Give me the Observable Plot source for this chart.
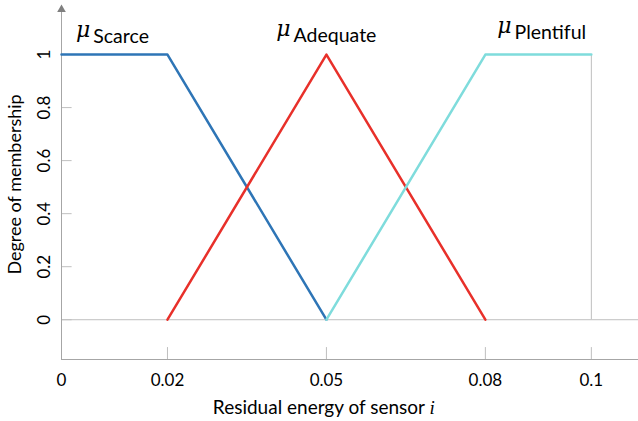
<!DOCTYPE html>
<html><head><meta charset="utf-8">
<script src="https://cdn.jsdelivr.net/npm/d3@7"></script>
<script src="https://cdn.jsdelivr.net/npm/@observablehq/plot@0.6"></script>
<style>body{margin:0;background:#fff;} svg{display:block;}</style>
</head><body><div id="chart"></div>
<script>
const xTicks = [0, 0.02, 0.05, 0.08, 0.1];
const yTicks = [0, 0.2, 0.4, 0.6, 0.8, 1];
const scarceX = [0, 0.02, 0.05], scarceY = [1, 1, 0];
const adequateX = [0.02, 0.05, 0.08], adequateY = [0, 1, 0];
const plentifulX = [0.05, 0.08, 0.1], plentifulY = [0, 1, 1];
const labelNames = ["Scarce", "Adequate", "Plentiful"];
const labelX = [0.006, 0.0438, 0.0855];
const labelY = [1.045, 1.049, 1.057];
const xTitle = "Residual energy of sensor ";
const yTitle = "Degree of membership";

const pts = (xs, ys, s) => xs.map((x, i) => ({x, y: ys[i], s}));
const lines = [...pts(scarceX, scarceY, "Scarce"), ...pts(adequateX, adequateY, "Adequate"), ...pts(plentifulX, plentifulY, "Plentiful")];
const labels = labelNames.map((n, i) => ({n, x: labelX[i], y: labelY[i]}));

const axisC = "#a6a6a6", gridC = "#bfbfbf";
const font = "Lato, 'Open Sans', sans-serif";
const chart = Plot.plot({
  width: 638, height: 421,
  marginLeft: 61, marginRight: 0, marginTop: 5, marginBottom: 62,
  x: {domain: [0, 0.1089], axis: null},
  y: {domain: [-0.15, 1.185], axis: null},
  color: {domain: labelNames, range: ["#2e75b6", "#e8302a", "#7fdcdc"]},
  style: {fontFamily: font, background: "#fff"},
  marks: [
    Plot.ruleY([0], {x1: 0, x2: 0.1089, stroke: gridC, strokeWidth: 1}),
    Plot.ruleY(yTicks, {y: d => d, x1: 0, x2: 0.002, stroke: gridC}),
    Plot.ruleX(xTicks.slice(1), {x: d => d, y1: -0.15, y2: -0.105, stroke: gridC}),
    Plot.ruleX([0.1], {y1: 0, y2: 1, stroke: gridC}),
    Plot.ruleX([0], {y1: -0.15, y2: 1.175, stroke: axisC}),
    Plot.ruleY([-0.15], {x1: 0, x2: 0.1089, stroke: axisC}),
    Plot.dot([0], {x: 0, y: 1.17, symbol: "triangle", r: 3.2, fill: "#7f7f7f", stroke: null}),
    Plot.line(lines, {x: "x", y: "y", z: "s", stroke: "s", strokeWidth: 2.5}),
    Plot.text(xTicks, {x: d => d, y: -0.15, dy: 21, text: d => String(d), fontSize: 17, fill: "#000"}),
    Plot.text(yTicks, {y: d => d, frameAnchor: "left", dx: -17, rotate: -90, textAnchor: "middle", text: d => String(d), fontSize: 17, fill: "#000"}),
    Plot.text([yTitle], {y: 0.51, frameAnchor: "left", dx: -46, rotate: -90, textAnchor: "middle", text: d => d, fontSize: 18, fill: "#000"}),
    Plot.text([xTitle], {x: 0.0495, y: -0.15, dy: 48, text: d => d, fontSize: 19, fill: "#000", className: "xtitle"}),
    Plot.text(labels, {x: "x", y: "y", text: "n", textAnchor: "start", lineAnchor: "bottom", fontSize: 19.5, fill: "#000"}),
    Plot.text(labels, {x: "x", y: "y", text: () => "μ", textAnchor: "end", lineAnchor: "bottom", dx: -3, dy: -6, fontSize: 22, fontStyle: "italic", fontFamily: "'DejaVu Serif', serif", fill: "#000"})
  ]
});
const t = d3.select(chart).select("g.xtitle text");
t.text(null);
t.append("tspan").text(xTitle);
t.append("tspan").attr("font-style", "italic").attr("font-family", "'Liberation Serif', serif").text("i");
document.getElementById("chart").append(chart);
</script></body></html>
